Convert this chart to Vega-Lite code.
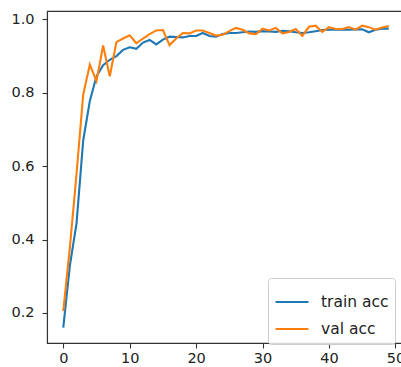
{
  "$schema": "https://vega.github.io/schema/vega-lite/v6.json",
  "width": 358,
  "height": 332,
  "autosize": {"type": "none"},
  "padding": {"left": 47, "top": 11, "right": 0, "bottom": 24},
  "background": "white",
  "config": {
    "view": {"stroke": "#333", "strokeWidth": 1.1},
    "font": "DejaVu Sans",
    "axis": {"grid": false, "domainColor": "#333", "domainWidth": 1.1, "tickColor": "#333", "tickWidth": 1.1, "tickSize": 5, "labelFont": "DejaVu Sans", "labelFontSize": 14.5, "labelColor": "#222", "title": null}
  },
  "data": {"values": [
    {"epoch": 0, "train acc": 0.16, "val acc": 0.205},
    {"epoch": 1, "train acc": 0.33, "val acc": 0.38},
    {"epoch": 2, "train acc": 0.445, "val acc": 0.58},
    {"epoch": 3, "train acc": 0.67, "val acc": 0.795},
    {"epoch": 4, "train acc": 0.778, "val acc": 0.877},
    {"epoch": 5, "train acc": 0.845, "val acc": 0.832},
    {"epoch": 6, "train acc": 0.875, "val acc": 0.929},
    {"epoch": 7, "train acc": 0.89, "val acc": 0.845},
    {"epoch": 8, "train acc": 0.9, "val acc": 0.938},
    {"epoch": 9, "train acc": 0.917, "val acc": 0.948},
    {"epoch": 10, "train acc": 0.924, "val acc": 0.957},
    {"epoch": 11, "train acc": 0.92, "val acc": 0.935},
    {"epoch": 12, "train acc": 0.937, "val acc": 0.948},
    {"epoch": 13, "train acc": 0.944, "val acc": 0.96},
    {"epoch": 14, "train acc": 0.932, "val acc": 0.97},
    {"epoch": 15, "train acc": 0.945, "val acc": 0.971},
    {"epoch": 16, "train acc": 0.953, "val acc": 0.93},
    {"epoch": 17, "train acc": 0.952, "val acc": 0.948},
    {"epoch": 18, "train acc": 0.951, "val acc": 0.963},
    {"epoch": 19, "train acc": 0.955, "val acc": 0.962},
    {"epoch": 20, "train acc": 0.955, "val acc": 0.97},
    {"epoch": 21, "train acc": 0.963, "val acc": 0.97},
    {"epoch": 22, "train acc": 0.955, "val acc": 0.963},
    {"epoch": 23, "train acc": 0.953, "val acc": 0.956},
    {"epoch": 24, "train acc": 0.96, "val acc": 0.958},
    {"epoch": 25, "train acc": 0.963, "val acc": 0.968},
    {"epoch": 26, "train acc": 0.963, "val acc": 0.977},
    {"epoch": 27, "train acc": 0.965, "val acc": 0.972},
    {"epoch": 28, "train acc": 0.967, "val acc": 0.962},
    {"epoch": 29, "train acc": 0.966, "val acc": 0.96},
    {"epoch": 30, "train acc": 0.968, "val acc": 0.975},
    {"epoch": 31, "train acc": 0.967, "val acc": 0.97},
    {"epoch": 32, "train acc": 0.966, "val acc": 0.977},
    {"epoch": 33, "train acc": 0.969, "val acc": 0.962},
    {"epoch": 34, "train acc": 0.968, "val acc": 0.966},
    {"epoch": 35, "train acc": 0.965, "val acc": 0.974},
    {"epoch": 36, "train acc": 0.963, "val acc": 0.955},
    {"epoch": 37, "train acc": 0.965, "val acc": 0.98},
    {"epoch": 38, "train acc": 0.968, "val acc": 0.983},
    {"epoch": 39, "train acc": 0.971, "val acc": 0.966},
    {"epoch": 40, "train acc": 0.972, "val acc": 0.979},
    {"epoch": 41, "train acc": 0.972, "val acc": 0.974},
    {"epoch": 42, "train acc": 0.973, "val acc": 0.974},
    {"epoch": 43, "train acc": 0.972, "val acc": 0.979},
    {"epoch": 44, "train acc": 0.973, "val acc": 0.972},
    {"epoch": 45, "train acc": 0.973, "val acc": 0.983},
    {"epoch": 46, "train acc": 0.965, "val acc": 0.979},
    {"epoch": 47, "train acc": 0.972, "val acc": 0.972},
    {"epoch": 48, "train acc": 0.975, "val acc": 0.978},
    {"epoch": 49, "train acc": 0.975, "val acc": 0.982}
  ]},
  "transform": [{"fold": ["train acc", "val acc"], "as": ["series", "acc"]}],
  "mark": {"type": "line", "strokeWidth": 2.1, "clip": true},
  "encoding": {
    "x": {"field": "epoch", "type": "quantitative", "scale": {"domain": [-2.45, 51.45], "nice": false, "zero": false}, "axis": {"values": [0, 10, 20, 30, 40, 50], "labelPadding": 3, "labelFlush": false}},
    "y": {"field": "acc", "type": "quantitative", "scale": {"domain": [0.118, 1.023], "nice": false, "zero": false}, "axis": {"values": [0.2, 0.4, 0.6, 0.8, 1.0], "format": ".1f", "labelPadding": 8}},
    "color": {"field": "series", "type": "nominal", "scale": {"domain": ["train acc", "val acc"], "range": ["#1f77b4", "#ff7f0e"]},
      "legend": {"title": null, "orient": "none", "legendX": 221, "legendY": 267, "symbolType": "stroke", "symbolSize": 1089, "symbolStrokeWidth": 2.1, "labelFontSize": 15.5, "labelFont": "DejaVu Sans", "labelColor": "#222", "labelOffset": 11, "rowPadding": -13, "padding": 6, "strokeColor": "#ccc", "fillColor": "rgba(255,255,255,0.8)", "cornerRadius": 3}}
  }
}
